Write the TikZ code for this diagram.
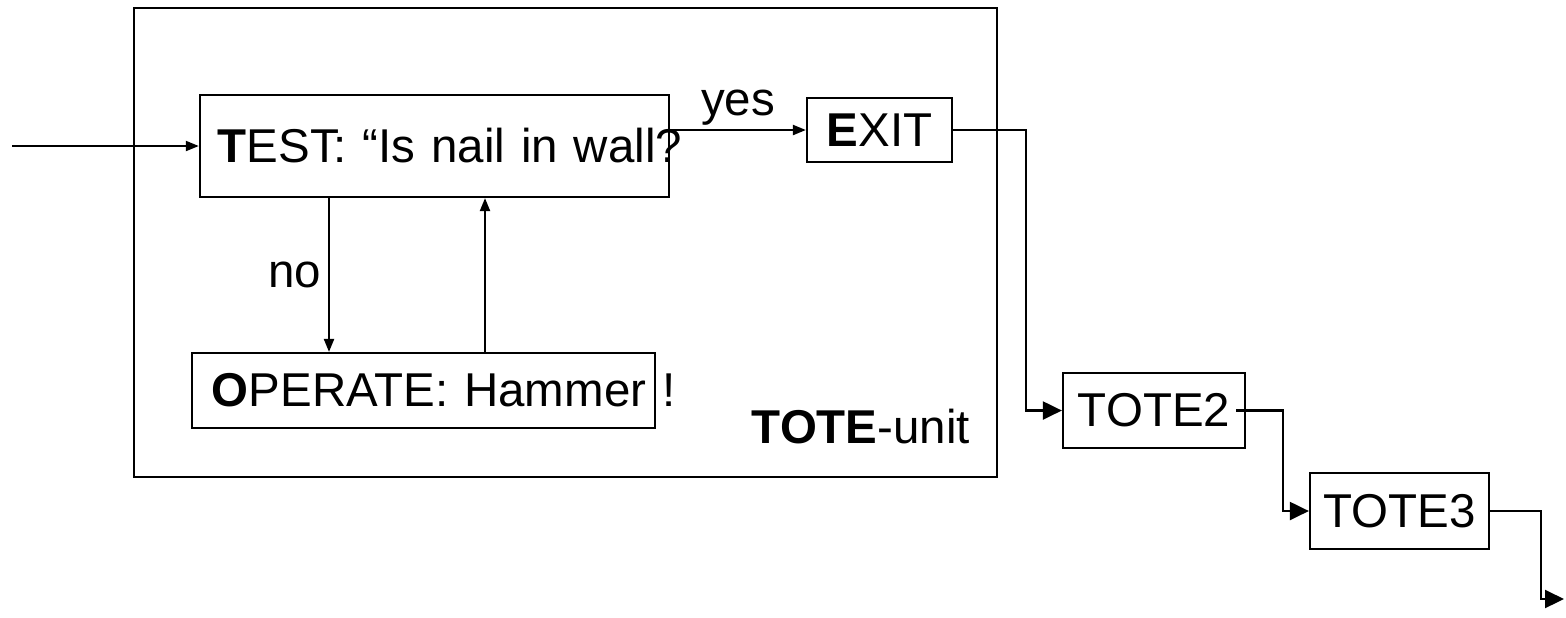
\documentclass[tikz,border=0pt]{standalone}
\usepackage{fontspec}
\setmainfont{Liberation Sans}
\usetikzlibrary{arrows.meta,positioning}

\begin{document}
\begin{tikzpicture}[x=0.01cm, y=-0.01cm, line width=0.6pt,
        every node/.style={font=\fontsize{13.5}{16}\selectfont},
        box/.style={draw, inner sep=0pt},
        flowarrow/.style={-{Triangle[length=1.3mm, width=1mm]}},
        linkarrow/.style={-{Triangle[length=1.9mm, width=1.8mm]}}]
    \useasboundingbox (0,0) rectangle (1566,617);

    % the unit and its parts
    \node[box, minimum width=8.63cm, minimum height=4.69cm] (unit) at (565.5,242.5) {};
    \node[anchor=base east, inner sep=0pt] (unitname) at (971,443) {\textbf{TOTE}-unit};
    \node[box, minimum width=4.69cm, minimum height=1.02cm, text width=4.33cm,
          inner xsep=0.18cm, align=left] (test) at (434.5,146) {\mbox{\textbf{T}EST: “Is nail in wall?}};
    \node[box, minimum width=4.63cm, minimum height=0.75cm, text width=4.23cm,
          inner xsep=0.2cm, align=left] (operate) at (423.5,390.5) {\mbox{\textbf{O}PERATE: Hammer !}};
    \node[box, minimum width=1.45cm, minimum height=0.64cm] (exit) at (879.5,130) {\textbf{E}XIT};

    % further units
    \node[box, minimum width=1.82cm, minimum height=0.75cm] (tote2) at (1154,410.5) {TOTE2};
    \node[box, minimum width=1.79cm, minimum height=0.76cm] (tote3) at (1399.5,511) {TOTE3};

    \coordinate (start) at (12,146);
    \coordinate (nodown) at (329,0);
    \coordinate (noup) at (485,0);
    \coordinate (end) at (1564,599);

    \draw[flowarrow] (start) -- (test.west);
    \draw[flowarrow] (exit.west -| test.east) -- node[above, inner sep=1pt] {yes} (exit.west);
    \draw[flowarrow] (test.south -| nodown) -- node[left, inner sep=2pt] {no} (operate.north -| nodown);
    \draw[flowarrow] (operate.north -| noup) -- (test.south -| noup);

    \draw[linkarrow] (exit.east) -- ++(0.73cm,0) |- (tote2.west);
    \draw[linkarrow] ([xshift=-0.1cm]tote2.east) -- ++(0.47cm,0) |- (tote3.west);
    \draw[linkarrow] (tote3.east) -- ++(0.51cm,0) |- (end);
\end{tikzpicture}
\end{document}
